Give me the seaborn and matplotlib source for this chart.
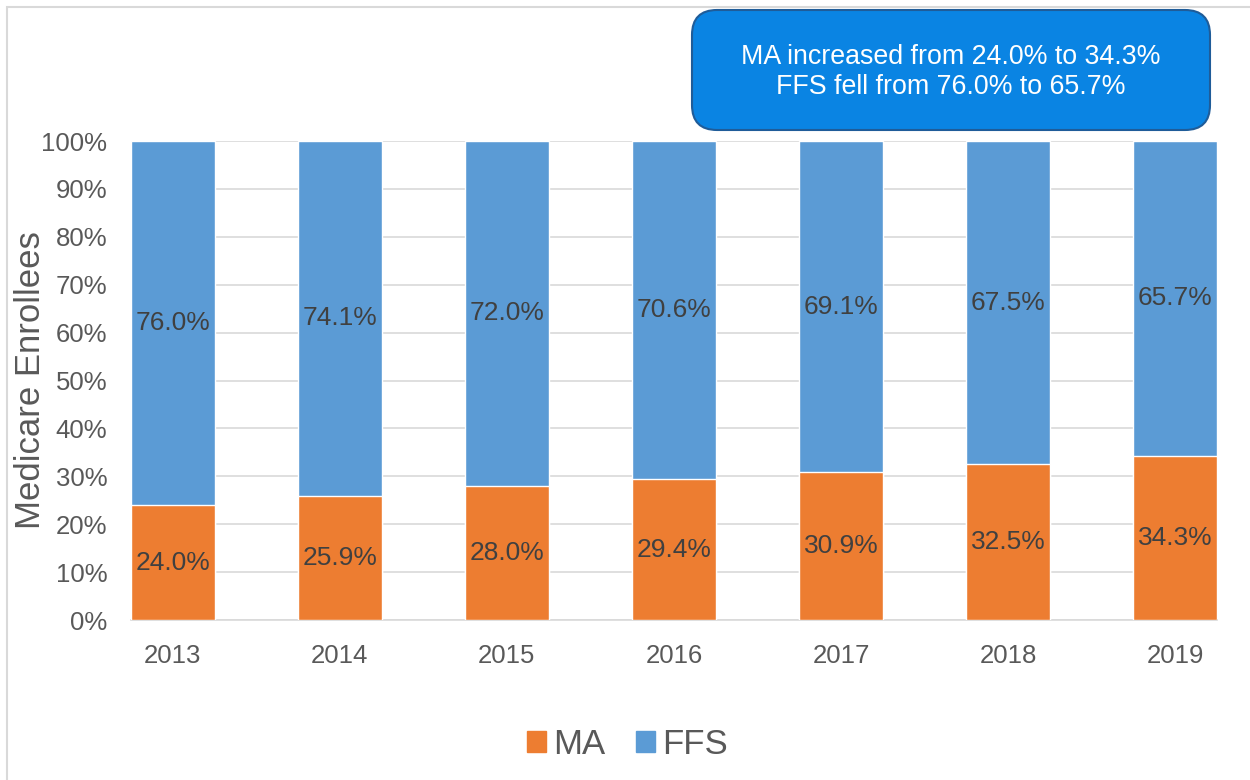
import matplotlib
matplotlib.use("Agg")
import matplotlib.pyplot as plt
from matplotlib.patches import FancyBboxPatch, Rectangle, Patch
import seaborn as sns
import pandas as pd

years = ["2013", "2014", "2015", "2016", "2017", "2018", "2019"]
ma = [24.0, 25.9, 28.0, 29.4, 30.9, 32.5, 34.3]
ffs = [76.0, 74.1, 72.0, 70.6, 69.1, 67.5, 65.7]

ma_color = "#ED7D31"
ffs_color = "#5B9BD5"

sns.set_theme(style="white")
plt.rcParams["font.family"] = ["Liberation Sans", "DejaVu Sans"]

df = pd.DataFrame({"year": years, "MA": ma, "FFS": ffs})
df["total"] = df["MA"] + df["FFS"]

fig = plt.figure(figsize=(12.5, 7.8), dpi=100)
ax = fig.add_axes([0.1048, 0.2051, 0.8688, 0.6141])

# stacked bars: full height in FFS colour, MA drawn over it
sns.barplot(data=df, x="year", y="total", color=ffs_color, width=0.5,
            saturation=1, ax=ax, zorder=2)
sns.barplot(data=df, x="year", y="MA", color=ma_color, width=0.5,
            saturation=1, ax=ax, zorder=3)

for i in range(len(years)):
    ax.text(i, ma[i] / 2, f"{ma[i]:.1f}%", ha="center", va="center",
            fontsize=19, color="#404040", zorder=4)
    ax.text(i, ma[i] + ffs[i] / 2, f"{ffs[i]:.1f}%", ha="center", va="center",
            fontsize=19, color="#404040", zorder=4)

ax.set_xlim(-0.25, len(years) - 0.75)
ax.set_ylim(0, 100)
ax.set_yticks(range(0, 101, 10))
ax.set_yticklabels([f"{v}%" for v in range(0, 101, 10)])
ax.yaxis.grid(True, color="#D9D9D9", linewidth=1.2, zorder=0)
ax.set_axisbelow(True)
for s in ["top", "right", "left"]:
    ax.spines[s].set_visible(False)
ax.spines["bottom"].set_color("#D9D9D9")
ax.spines["bottom"].set_linewidth(1.2)
ax.tick_params(axis="both", labelsize=18.5, colors="#595959", length=0, pad=17)
ax.set_xlabel("")
ax.set_ylabel("Medicare Enrollees", fontsize=25, color="#595959")
ax.yaxis.set_label_coords(-0.077, 0.5)

handles = [Patch(color=ma_color, label="MA"), Patch(color=ffs_color, label="FFS")]
fig.legend(handles=handles, loc="center", bbox_to_anchor=(0.502, 0.046), ncol=2,
           frameon=False, fontsize=25, labelcolor="#595959", handlelength=0.55,
           handleheight=0.55, handletextpad=0.2, columnspacing=0.9)

# annotation box
box = FancyBboxPatch((692 / 1250, 1 - 130 / 780), 518 / 1250, 120 / 780,
                     boxstyle="round,pad=0,rounding_size=0.02",
                     transform=fig.transFigure, facecolor="#0A84E3",
                     edgecolor="#1F5C99", linewidth=1.5, mutation_aspect=1.6)
fig.patches.append(box)
fig.text(951 / 1250, 1 - 72 / 780,
         "MA increased from 24.0% to 34.3%\nFFS fell from 76.0% to 65.7%",
         ha="center", va="center", fontsize=19.3, color="white", linespacing=1.15)

# outer chart border
fig.patches.append(Rectangle((7 / 1250, -0.1), 1.2, 1 - 7 / 780 + 0.1,
                             transform=fig.transFigure, fill=False,
                             edgecolor="#D9D9D9", linewidth=1.5))

fig.savefig("out.png", dpi=100)
